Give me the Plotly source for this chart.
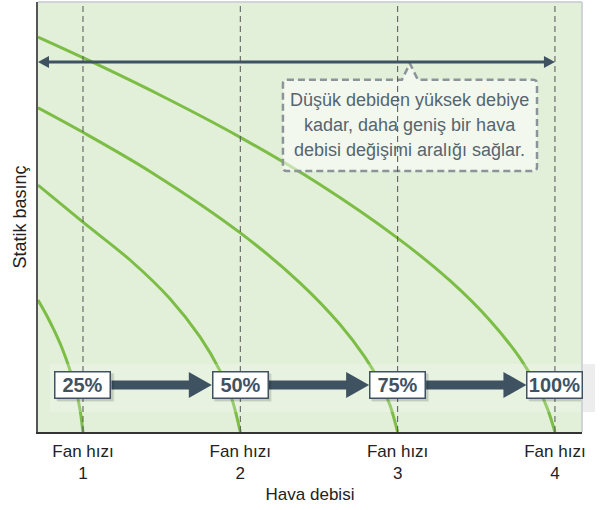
import plotly.graph_objects as go

# Fan speed steps on the airflow axis
speed_pos = [1, 2, 3, 4]
speed_labels = ["Fan hızı<br>1", "Fan hızı<br>2", "Fan hızı<br>3", "Fan hızı<br>4"]
speed_pct = ["25%", "50%", "75%", "100%"]

# Fan curves: airflow vs. static pressure for each fan speed
curve_25_x = [0.714, 0.765, 0.816, 0.867, 0.917, 0.956, 0.981, 1.0]
curve_25_y = [30.7, 27.37, 23.67, 19.47, 14.42, 9.60, 5.23, 0.0]
curve_50_x = [0.714, 1.0, 1.299, 1.553, 1.744, 1.871, 1.947, 2.0]
curve_50_y = [57.4, 48.8, 40.0, 31.0, 22.1, 14.2, 7.6, 0.0]
curve_75_x = [0.714, 1.0, 1.426, 2.0, 2.379, 2.634, 2.792, 2.888, 2.951, 3.0]
curve_75_y = [75.4, 69.7, 60.6, 46.3, 34.7, 25.0, 17.4, 11.5, 6.3, 0.0]
curve_100_x = [0.714, 1.0, 1.489, 2.0, 2.506, 3.0, 3.333, 3.587, 3.778, 3.905, 3.956, 4.0]
curve_100_y = [91.85, 87.05, 78.37, 68.53, 57.56, 45.09, 35.19, 25.95, 17.16, 9.33, 5.09, 0.0]

callout_lines = [
    "Düşük debiden yüksek debiye",
    "kadar, daha geniş bir hava",
    "debisi değişimi aralığı sağlar.",
]

X_RANGE = [0.714, 4.172]
Y_RANGE = [0, 100]
PLOT_W, PLOT_H = 544, 430
PX = (X_RANGE[1] - X_RANGE[0]) / PLOT_W   # one pixel in x data units
PY = (Y_RANGE[1] - Y_RANGE[0]) / PLOT_H   # one pixel in y data units

GREEN = "#7cbd45"
SLATE = "#3e5262"
BG = "#e2efd9"
FONT = "Liberation Sans, Arial, sans-serif"

fig = go.Figure()
for cx, cy in [(curve_25_x, curve_25_y), (curve_50_x, curve_50_y),
               (curve_75_x, curve_75_y), (curve_100_x, curve_100_y)]:
    fig.add_trace(go.Scatter(x=cx, y=cy, mode="lines",
                             line=dict(color=GREEN, width=3, shape="spline", smoothing=0.9),
                             hoverinfo="skip", showlegend=False))

shapes = []

# faint highlight band behind the speed boxes
band_y0, band_y1 = 4.65, 15.8
shapes.append(dict(type="rect", xref="x", yref="y", x0=X_RANGE[0] + 12 * PX, x1=X_RANGE[1],
                   y0=band_y0, y1=band_y1, fillcolor="rgba(255,255,255,0.22)",
                   line=dict(width=0), layer="above"))
shapes.append(dict(type="rect", xref="paper", yref="y", x0=1.0, x1=1.0 + 13 / PLOT_W,
                   y0=band_y0, y1=band_y1, fillcolor="rgba(0,0,0,0.07)",
                   line=dict(width=0), layer="above"))

# callout box with a pointer up to the range arrow
arrow_y = 86.05
L, R = 2.271, 3.886
T, B = 81.9, 60.7
tip_x = 3.078
rx, ry = 4 * PX, 4 * PY
bl, br = tip_x - 8 * PX, tip_x + 8 * PX
path = (f"M{L+rx},{T} L{bl},{T} L{tip_x},{arrow_y - 1.5 * PY} L{br},{T} L{R-rx},{T} "
        f"Q{R},{T} {R},{T-ry} L{R},{B+ry} Q{R},{B} {R-rx},{B} L{L+rx},{B} "
        f"Q{L},{B} {L},{B+ry} L{L},{T-ry} Q{L},{T} {L+rx},{T} Z")
shapes.append(dict(type="path", xref="x", yref="y", path=path,
                   fillcolor="rgba(255,255,255,0.55)",
                   line=dict(color="#8b9499", width=2.5, dash="7px,4px"), layer="above"))

# dashed guide lines at each fan speed
for xp in speed_pos:
    shapes.append(dict(type="line", xref="x", yref="paper", x0=xp, x1=xp, y0=0, y1=1,
                       line=dict(color="#555555", width=1, dash="6px,4px"), layer="above"))

# double-headed range arrow
ax0, ax1 = X_RANGE[0], 4.0
head_l, head_h = 11 * PX, 6 * PY
shapes.append(dict(type="line", xref="x", yref="y", x0=ax0 + head_l * 0.5, x1=ax1 - head_l * 0.5,
                   y0=arrow_y, y1=arrow_y, line=dict(color=SLATE, width=3), layer="above"))
shapes.append(dict(type="path", xref="x", yref="y",
                   path=f"M{ax0},{arrow_y} L{ax0+head_l},{arrow_y+head_h} L{ax0+head_l},{arrow_y-head_h} Z",
                   fillcolor=SLATE, line=dict(width=0), layer="above"))
shapes.append(dict(type="path", xref="x", yref="y",
                   path=f"M{ax1},{arrow_y} L{ax1-head_l},{arrow_y+head_h} L{ax1-head_l},{arrow_y-head_h} Z",
                   fillcolor=SLATE, line=dict(width=0), layer="above"))

# speed step boxes and the thick arrows between them
box_y = 10.93
half_w, half_h = 28.5 * PX, 14 * PY
body_h, arrow_hh, arrow_len = 4.5 * PY, 13 * PY, 23 * PX
for i in range(len(speed_pos) - 1):
    xs = speed_pos[i] + half_w
    xt = speed_pos[i + 1] - half_w
    xb = xt - arrow_len
    p = (f"M{xs},{box_y-body_h} L{xb},{box_y-body_h} L{xb},{box_y-arrow_hh} L{xt},{box_y} "
         f"L{xb},{box_y+arrow_hh} L{xb},{box_y+body_h} L{xs},{box_y+body_h} Z")
    shapes.append(dict(type="path", xref="x", yref="y", path=p, fillcolor=SLATE,
                       line=dict(width=0), layer="above"))
for xp in speed_pos:
    for k, a in [(3, 0.06), (2, 0.1)]:
        shapes.append(dict(type="rect", xref="x", yref="y",
                           x0=xp - half_w + k * PX, x1=xp + half_w + k * PX,
                           y0=box_y - half_h - k * PY, y1=box_y + half_h - k * PY,
                           fillcolor=f"rgba(0,0,0,{a})", line=dict(width=0), layer="above"))

# plot frame: light top and right edges
shapes.append(dict(type="line", xref="paper", yref="paper", x0=0, x1=1, y0=1, y1=1,
                   line=dict(color="#cfd4d8", width=2), layer="above"))
shapes.append(dict(type="line", xref="paper", yref="paper", x0=1, x1=1, y0=0, y1=1,
                   line=dict(color="#cfd4d8", width=2), layer="above"))

annotations = []
for xp, pct in zip(speed_pos, speed_pct):
    annotations.append(dict(x=xp, y=box_y, xref="x", yref="y", text=f"<b>{pct}</b>",
                            showarrow=False, bgcolor="white", bordercolor=SLATE,
                            borderwidth=1.5, borderpad=0, width=54, height=25,
                            font=dict(family=FONT, size=20, color=SLATE)))
line_gap = 25 * PY
mid = (len(callout_lines) - 1) / 2
for j, txt in enumerate(callout_lines):
    annotations.append(dict(x=tip_x, y=(T + B) / 2 - (j - mid) * line_gap, xref="x", yref="y",
                            text=txt, showarrow=False, align="center",
                            font=dict(family=FONT, size=18, color="#56656f")))

fig.update_layout(
    width=600, height=510,
    margin=dict(l=38, r=18, t=2, b=78),
    paper_bgcolor="white", plot_bgcolor=BG,
    showlegend=False,
    shapes=shapes, annotations=annotations,
    xaxis=dict(range=X_RANGE, tickvals=speed_pos, ticktext=speed_labels,
               showgrid=False, zeroline=False, showline=True, linecolor="#333333", linewidth=1.5,
               ticks="", ticklabelstandoff=3,
               tickfont=dict(family=FONT, size=17, color="#222222"),
               title=dict(text="Hava debisi", standoff=6,
                          font=dict(family=FONT, size=17, color="#222222"))),
    yaxis=dict(range=Y_RANGE, showticklabels=False, showgrid=False, zeroline=False,
               showline=True, linecolor="#555555", linewidth=2, ticks="",
               title=dict(text="Statik basınç", standoff=5,
                          font=dict(family=FONT, size=18, color="#222222"))),
)

fig.write_html("out.html")
